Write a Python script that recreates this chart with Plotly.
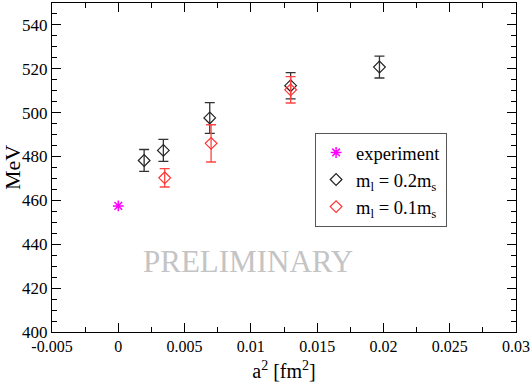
from plotly import graph_objects

# data
exp_a2 = [0.0]
exp_mev = [457.5]

a2_02 = [0.00195, 0.0034, 0.0069, 0.0130, 0.0197]
mev_02 = [478.2, 482.8, 497.6, 512.3, 520.8]
err_02 = [5.0, 5.0, 7.0, 6.0, 5.0]

a2_01 = [0.0035, 0.0070, 0.0130]
mev_01 = [470.3, 486.0, 510.4]
err_01 = [4.2, 8.5, 6.0]

x_ticks = [-0.005, 0, 0.005, 0.01, 0.015, 0.02, 0.025, 0.03]
x_tick_text = ["-0.005", "0", "0.005", "0.01", "0.015", "0.02", "0.025", "0.03"]

serif = "Liberation Serif"

figure = graph_objects.Figure()
figure.add_trace(graph_objects.Scatter(
    x=exp_a2, y=exp_mev, mode="markers", name="experiment",
    marker=dict(symbol="asterisk-open", size=9, color="#ff00ff",
                line=dict(width=1.5, color="#ff00ff")),
))
figure.add_trace(graph_objects.Scatter(
    x=a2_02, y=mev_02, mode="markers", name="m<sub>l</sub> = 0.2m<sub>s</sub>",
    marker=dict(symbol="diamond-open", size=9, color="#222222",
                line=dict(width=1.2)),
    error_y=dict(type="data", array=err_02, color="#333333",
                 thickness=1.3, width=5),
))
figure.add_trace(graph_objects.Scatter(
    x=a2_01, y=mev_01, mode="markers", name="m<sub>l</sub> = 0.1m<sub>s</sub>",
    marker=dict(symbol="diamond-open", size=9, color="#ff3333",
                line=dict(width=1.2)),
    error_y=dict(type="data", array=err_01, color="#ff4444",
                 thickness=1.3, width=5),
))

# watermark
figure.add_annotation(
    x=0.0098, y=432, xref="x", yref="y", text="PRELIMINARY",
    showarrow=False, font=dict(family=serif, size=31, color="#c4c4c4"),
)

axis_style = dict(
    showgrid=False, zeroline=False, showline=True, linecolor="black",
    linewidth=1, mirror="allticks", ticks="inside", ticklen=9,
    tickcolor="black", tickwidth=1, automargin=False,
)
figure.update_xaxes(
    range=[-0.005, 0.03], tickmode="array",
    tickvals=x_ticks, ticktext=x_tick_text,
    tickfont=dict(family=serif, size=16, color="black"),
    minor=dict(tick0=0, dtick=0.0025, ticks="inside", ticklen=5,
               tickcolor="black"),
    title=dict(text="a<sup>2</sup> [fm<sup>2</sup>]",
               font=dict(family=serif, size=20, color="black")),
    **axis_style,
)
figure.update_yaxes(
    range=[400, 550], dtick=20, tick0=400,
    tickfont=dict(family=serif, size=17, color="black"),
    minor=dict(dtick=5, ticks="inside", ticklen=5, tickcolor="black"),
    title=dict(text="MeV",
               font=dict(family=serif, size=22, color="black")),
    **axis_style,
)
figure.update_layout(
    width=531, height=382,
    margin=dict(l=52, r=15, t=3, b=50),
    plot_bgcolor="white", paper_bgcolor="white",
    font=dict(family=serif),
    showlegend=True,
    legend=dict(
        x=0.567, y=0.605, xanchor="left", yanchor="top",
        bordercolor="#555555", borderwidth=1, bgcolor="white",
        font=dict(family=serif, size=18.5, color="black"),
        itemwidth=30, tracegroupgap=0,
    ),
)
# drop the browser's default body margin so the figure sits at the corner
figure.write_html("out.html", config={"displayModeBar": False},
                  post_script="document.body.style.margin='0';")
